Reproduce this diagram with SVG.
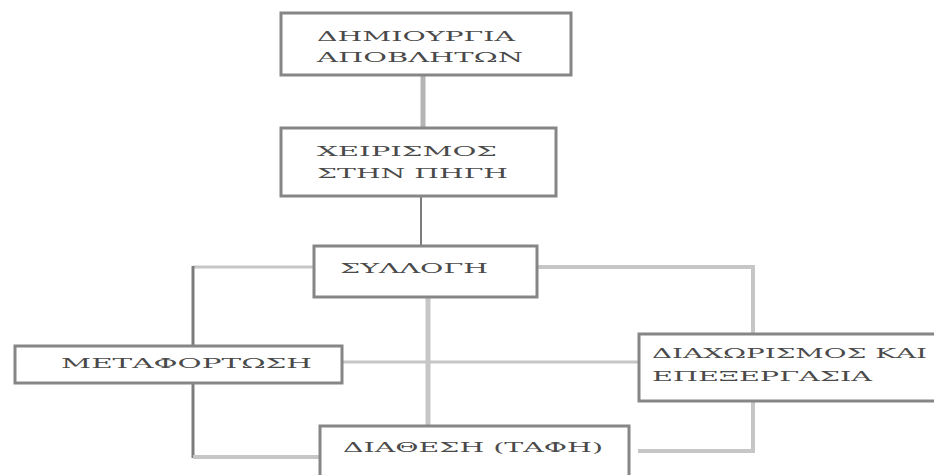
<svg xmlns="http://www.w3.org/2000/svg" width="934" height="475" viewBox="0 0 934 475">
<style>
.box{fill:#fff;stroke:#868686;stroke-width:3}
.lt{stroke:#c6c6c6;stroke-width:4;fill:none}
.dk{stroke:#7c7c7c;stroke-width:3;fill:none}
text{font-family:"DejaVu Serif","Liberation Serif",serif;font-size:12px;fill:#4a4a4a}
</style>
<rect width="934" height="475" fill="#fff"/>
<g id="connectors">
<line class="lt" x1="423" y1="76" x2="423" y2="127" style="stroke:#b4b4b4;stroke-width:5"/>
<line class="dk" x1="421" y1="197" x2="421" y2="245" style="stroke-width:2"/>
<line class="lt" x1="313" y1="267" x2="193" y2="267" style="stroke-width:3"/>
<line class="dk" x1="193" y1="266" x2="193" y2="345"/>
<path class="lt" d="M538 267 H753 V333" style="stroke-width:4"/>
<line class="lt" x1="428" y1="297" x2="428" y2="425" style="stroke-width:5"/>
<line class="lt" x1="343" y1="362" x2="638" y2="362" style="stroke-width:3"/>
<line class="dk" x1="193" y1="383" x2="193" y2="458"/>
<line class="lt" x1="193" y1="457" x2="319" y2="457" style="stroke-width:4"/>
<path class="lt" d="M753 401 V451 H638" style="stroke-width:4"/>
</g>
<g id="n1">
<rect class="box" x="281" y="13" width="290" height="62"/>
<text x="317" y="41" textLength="198" lengthAdjust="spacingAndGlyphs">ΔΗΜΙΟΥΡΓΙΑ</text>
<text x="317" y="62" textLength="206" lengthAdjust="spacingAndGlyphs">ΑΠΟΒΛΗΤΩΝ</text>
</g>
<g id="n2">
<rect class="box" x="281" y="128" width="275" height="68"/>
<text x="317" y="156" textLength="180" lengthAdjust="spacingAndGlyphs">ΧΕΙΡΙΣΜΟΣ</text>
<text x="317" y="178" textLength="191" lengthAdjust="spacingAndGlyphs">ΣΤΗΝ ΠΗΓΗ</text>
</g>
<g id="n3">
<rect class="box" x="314" y="246" width="223" height="51"/>
<text x="340" y="273" textLength="148" lengthAdjust="spacingAndGlyphs">ΣΥΛΛΟΓΗ</text>
</g>
<g id="n4">
<rect class="box" x="15" y="346" width="327" height="37"/>
<text x="61" y="368" textLength="251" lengthAdjust="spacingAndGlyphs">ΜΕΤΑΦΟΡΤΩΣΗ</text>
</g>
<g id="n5">
<rect class="box" x="639" y="334" width="300" height="67"/>
<text x="652" y="358" textLength="275" lengthAdjust="spacingAndGlyphs">ΔΙΑΧΩΡΙΣΜΟΣ ΚΑΙ</text>
<text x="652" y="381" textLength="220" lengthAdjust="spacingAndGlyphs">ΕΠΕΞΕΡΓΑΣΙΑ</text>
</g>
<g id="n6">
<rect class="box" x="320" y="426" width="309" height="60"/>
<text x="343" y="452" textLength="260" lengthAdjust="spacingAndGlyphs">ΔΙΑΘΕΣΗ (ΤΑΦΗ)</text>
</g>
</svg>
